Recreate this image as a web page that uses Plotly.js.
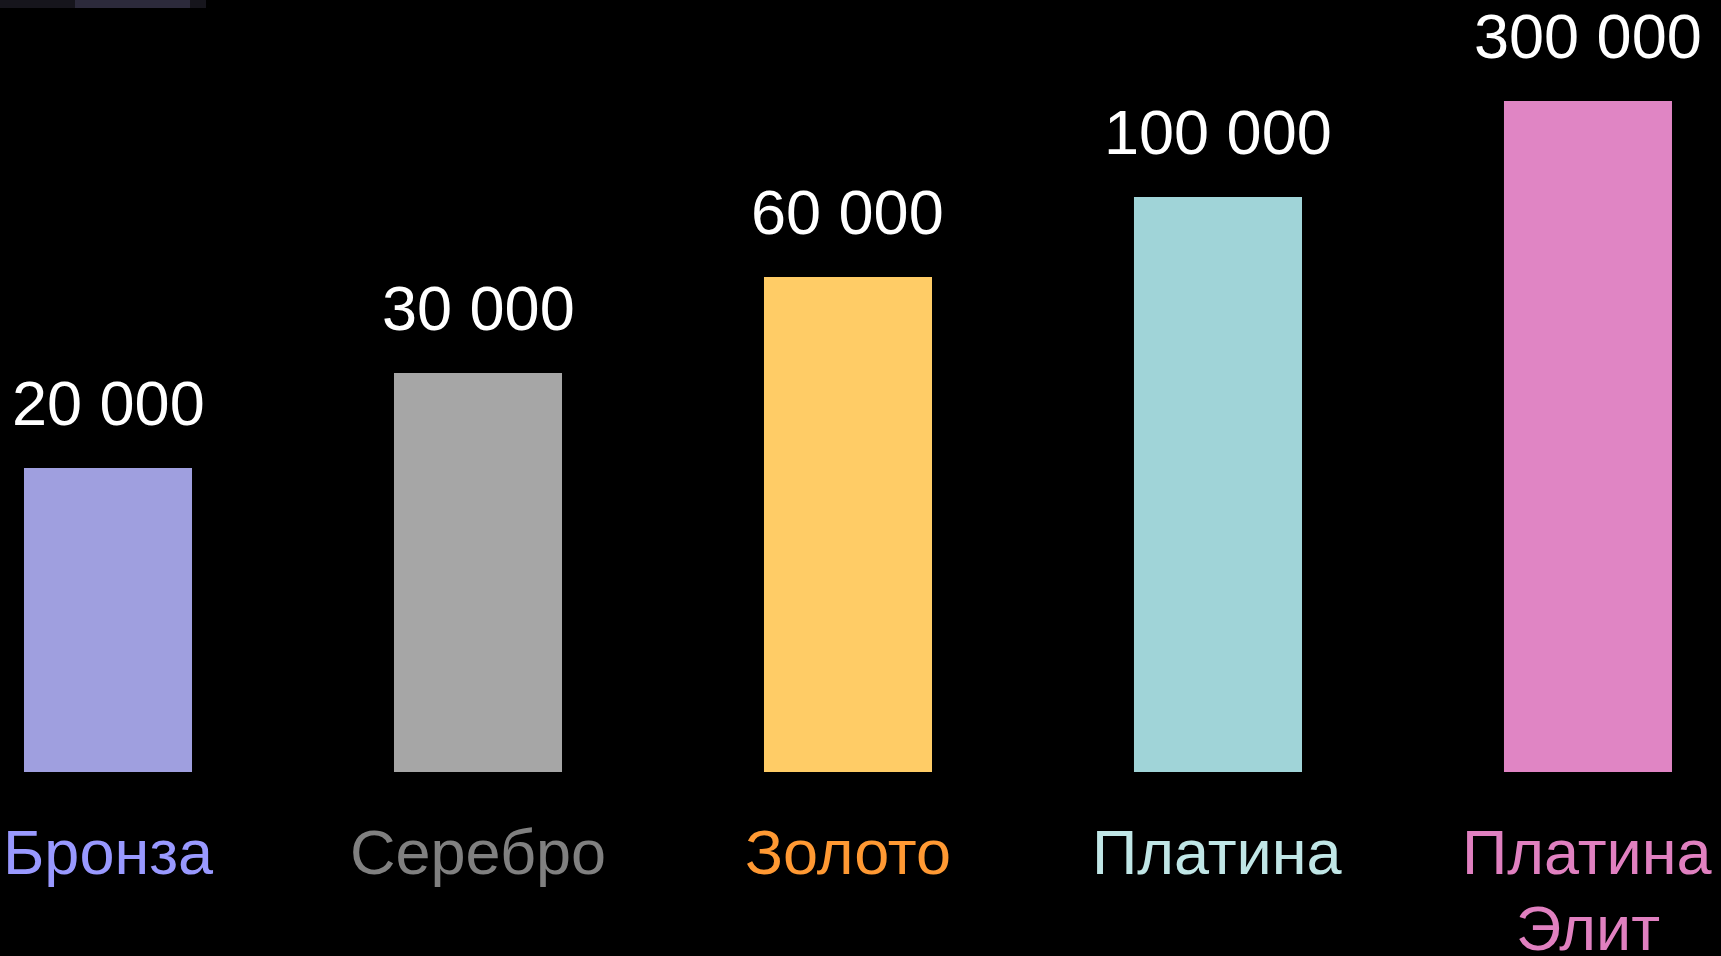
<!DOCTYPE html>
<html>
<head>
<meta charset="utf-8">
<script src="https://cdn.plot.ly/plotly-3.0.1.min.js"></script>
<style>
html,body{margin:0;padding:0;background:#000;overflow:hidden;}
#chart{width:1721px;height:956px;}
</style>
</head>
<body>
<div id="chart"></div>
<script>
// ---- data ----
const categories = ['Бронза', 'Серебро', 'Золото', 'Платина', 'Платина Элит'];
const thresholds = [20000, 30000, 60000, 100000, 300000];   // value labels
const barLevels = [304, 399, 495, 575, 671];                 // drawn bar heights (stepped infographic scale)
const barColors = ['#9f9fdf', '#a6a6a6', '#ffcc66', '#a0d4d8', '#e085c4'];
const labelColors = ['#9999ff', '#808080', '#ff9933', '#c0e6e6', '#e080c0'];

const fmt = v => String(v).replace(/\B(?=(\d{3})+(?!\d))/g, ' ');
const FONT = '"Liberation Sans", Arial, sans-serif';
const idx = categories.map((c, i) => i);

const trace = {
  type: 'bar',
  x: idx,
  y: barLevels,
  width: 0.4541,
  marker: {color: barColors, line: {width: 0}},
  hoverinfo: 'skip'
};

const annotations = [];
idx.forEach(i => {
  annotations.push({
    x: i, y: barLevels[i], xref: 'x', yref: 'y',
    text: fmt(thresholds[i]),
    showarrow: false, xanchor: 'center', yanchor: 'bottom', yshift: 28,
    font: {family: FONT, size: 63, color: '#ffffff'}
  });
  // long names wrap onto two lines
  const lines = categories[i].length > 10 ? categories[i].split(' ') : [categories[i]];
  lines.forEach((ln, k) => {
    annotations.push({
      x: i, y: 0, xref: 'x', yref: 'y',
      text: ln,
      showarrow: false, xanchor: 'center', yanchor: 'top', yshift: -43 - 76 * k,
      font: {family: FONT, size: 63, color: labelColors[i]}
    });
  });
});

const layout = {
  width: 1721, height: 956,
  paper_bgcolor: '#000000', plot_bgcolor: '#000000',
  margin: {l: 0, r: 0, t: 0, b: 184, pad: 0},
  showlegend: false,
  xaxis: {range: [-0.2919, 4.3595], visible: false, fixedrange: true},
  yaxis: {range: [0, 772], visible: false, fixedrange: true},
  annotations: annotations,
  shapes: [
    {type: 'rect', xref: 'paper', yref: 'paper', x0: 0, x1: 206/1721, y0: 1 - 8/772, y1: 1,
     fillcolor: '#16151c', line: {width: 0}, layer: 'above'},
    {type: 'rect', xref: 'paper', yref: 'paper', x0: 75/1721, x1: 190/1721, y0: 1 - 8/772, y1: 1,
     fillcolor: '#2c2a3b', line: {width: 0}, layer: 'above'}
  ]
};

Plotly.newPlot('chart', [trace], layout, {displayModeBar: false, staticPlot: true});
</script>
</body>
</html>
